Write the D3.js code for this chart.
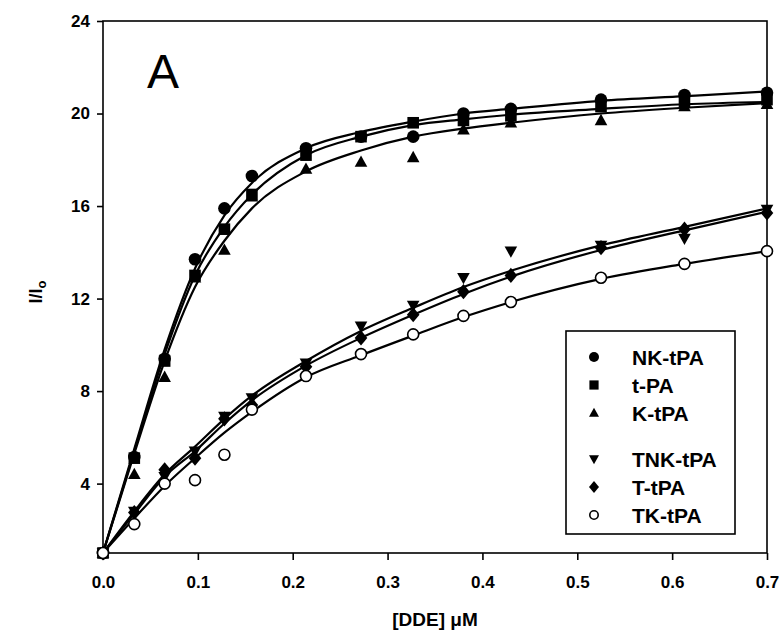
<!DOCTYPE html>
<html>
<head>
<meta charset="utf-8">
<script src="https://cdn.jsdelivr.net/npm/d3@7"></script>
<style>
  body { margin: 0; background: #fff; }
  svg { display: block; }
  text { font-family: "Liberation Sans", Arial, sans-serif; fill: #000; }
</style>
</head>
<body>
<svg id="chart" width="784" height="639"></svg>
<script>
// ---- data ----
const xValues = [0, 0.033, 0.065, 0.097, 0.128, 0.157, 0.214, 0.272, 0.327, 0.38, 0.43, 0.525, 0.613, 0.70];

const nkPoints   = [1, 5.15, 9.4, 13.7, 15.9, 17.3, 18.5, 19.0, 19.0, 20.0, 20.2, 20.6, 20.8, 20.9];
const tpaPoints  = [1, 5.1, 9.3, 13.0, 15.0, 16.5, 18.2, 19.0, 19.6, 19.7, 19.9, 20.3, 20.5, 20.6];
const kPoints    = [1, 4.4, 8.6, 12.9, 14.1, 16.4, 17.6, 17.9, 18.1, 19.3, 19.6, 19.7, 20.3, 20.4];
const tnkPoints  = [1, 2.8, 4.3, 5.4, 6.9, 7.7, 9.2, 10.8, 11.7, 12.9, 14.05, 14.3, 14.6, 15.85];
const tPoints    = [1, 2.75, 4.6, 5.1, 6.8, 7.4, 9.05, 10.3, 11.3, 12.3, 13.0, 14.2, 15.0, 15.7];
const tkPoints   = [1, 2.25, 4.0, 4.15, 5.25, 7.2, 8.65, 9.6, 10.45, 11.25, 11.85, 12.9, 13.5, 14.05];

// fitted curves at the same concentrations
const nkFit   = [1, 5.5, 9.8, 13.3, 15.6, 17.0, 18.5, 19.2, 19.65, 20.0, 20.2, 20.55, 20.75, 20.95];
const tpaFit  = [1, 5.4, 9.6, 13.0, 15.1, 16.5, 18.2, 19.0, 19.5, 19.75, 19.95, 20.2, 20.4, 20.5];
const kFit    = [1, 5.3, 9.3, 12.5, 14.5, 15.9, 17.5, 18.4, 19.0, 19.35, 19.6, 20.0, 20.25, 20.45];
const tnkFit  = [1, 2.8, 4.4, 5.6, 6.8, 7.8, 9.3, 10.6, 11.6, 12.5, 13.2, 14.3, 15.1, 15.9];
const tFit    = [1, 2.7, 4.3, 5.4, 6.6, 7.6, 9.1, 10.3, 11.3, 12.2, 12.95, 14.1, 14.95, 15.75];
const tkFit   = [1, 2.5, 3.9, 5.1, 6.2, 7.1, 8.6, 9.55, 10.4, 11.2, 11.85, 12.85, 13.5, 14.05];

const seriesNames = ["NK-tPA", "t-PA", "K-tPA", "TNK-tPA", "T-tPA", "TK-tPA"];
const xTicks = [0, 0.1, 0.2, 0.3, 0.4, 0.5, 0.6, 0.7];
const yTicks = [4, 8, 12, 16, 20, 24];

const series = [
  { name: seriesNames[0], pts: nkPoints,  fit: nkFit,  sym: "circle" },
  { name: seriesNames[1], pts: tpaPoints, fit: tpaFit, sym: "square" },
  { name: seriesNames[2], pts: kPoints,   fit: kFit,   sym: "triUp" },
  { name: seriesNames[3], pts: tnkPoints, fit: tnkFit, sym: "triDown" },
  { name: seriesNames[4], pts: tPoints,   fit: tFit,   sym: "diamond" },
  { name: seriesNames[5], pts: tkPoints,  fit: tkFit,  sym: "open" }
];

// ---- layout ----
const L = 103, R = 767, T = 21, B = 553;
const svg = d3.select("#chart");
const x = d3.scaleLinear().domain([0, 0.7]).range([L, R]);
const y = d3.scaleLinear().domain([1, 24]).range([B, T]);

// frame
svg.append("rect").attr("x", L).attr("y", T).attr("width", R - L).attr("height", B - T)
  .attr("fill", "none").attr("stroke", "#000").attr("stroke-width", 1.6);

// axes
const xAxis = svg.append("g").attr("transform", `translate(0,${B})`)
  .call(d3.axisBottom(x).tickValues(xTicks).tickFormat(d3.format(".1f")).tickSize(7).tickPadding(16));
const yAxis = svg.append("g").attr("transform", `translate(${L},0)`)
  .call(d3.axisLeft(y).tickValues(yTicks).tickFormat(d3.format("d")).tickSize(6).tickPadding(7));
[xAxis, yAxis].forEach(g => {
  g.select(".domain").remove();
  g.selectAll(".tick line").attr("stroke", "#000").attr("stroke-width", 1.6);
  g.selectAll(".tick text").attr("font-size", 17).attr("font-weight", "bold")
    .attr("font-family", "'Liberation Sans', Arial, sans-serif").attr("fill", "#000");
});

// fitted curves
const line = d3.line().x((d, i) => x(xValues[i])).y(d => y(d)).curve(d3.curveMonotoneX);
series.forEach(s => {
  svg.append("path").attr("d", line(s.fit)).attr("fill", "none")
    .attr("stroke", "#000").attr("stroke-width", 2.2);
});

// symbols
function drawSym(g, type, cx, cy, r) {
  if (type === "circle") {
    g.append("circle").attr("cx", cx).attr("cy", cy).attr("r", r).attr("fill", "#000");
  } else if (type === "open") {
    g.append("circle").attr("cx", cx).attr("cy", cy).attr("r", r - 0.8).attr("fill", "#fff")
      .attr("stroke", "#000").attr("stroke-width", 1.6);
  } else if (type === "square") {
    g.append("rect").attr("x", cx - r * 0.92).attr("y", cy - r * 0.92).attr("width", r * 1.84)
      .attr("height", r * 1.84).attr("fill", "#000");
  } else if (type === "triUp") {
    g.append("path").attr("d", `M${cx},${cy - r * 1.05}L${cx + r},${cy + r * 0.75}L${cx - r},${cy + r * 0.75}Z`).attr("fill", "#000");
  } else if (type === "triDown") {
    g.append("path").attr("d", `M${cx},${cy + r * 1.05}L${cx + r},${cy - r * 0.75}L${cx - r},${cy - r * 0.75}Z`).attr("fill", "#000");
  } else if (type === "diamond") {
    g.append("path").attr("d", `M${cx},${cy - r * 1.2}L${cx + r},${cy}L${cx},${cy + r * 1.2}L${cx - r},${cy}Z`).attr("fill", "#000");
  }
}

const pg = svg.append("g");
series.forEach(s => {
  s.pts.forEach((v, i) => drawSym(pg, s.sym, x(xValues[i]), y(v), 6.3));
});

// legend
const lg = svg.append("g");
lg.append("rect").attr("x", 566).attr("y", 331).attr("width", 169).attr("height", 203)
  .attr("fill", "#fff").attr("stroke", "#000").attr("stroke-width", 1.6);
const legendY = [357, 385, 413, 459, 487, 515];
series.forEach((s, i) => {
  drawSym(lg, s.sym, 594, legendY[i], 5);
  lg.append("text").attr("x", 632).attr("y", legendY[i]).attr("dy", "0.36em")
    .attr("font-size", 21).attr("font-weight", "bold").text(s.name);
});

// panel label
svg.append("text").attr("x", 147).attr("y", 88).attr("font-size", 48).text("A");

// axis titles
svg.append("text").attr("x", 435).attr("y", 626).attr("text-anchor", "middle")
  .attr("font-size", 19).attr("font-weight", "bold").text("[DDE] μM");
const yt = svg.append("text").attr("transform", "translate(42,292) rotate(-90)")
  .attr("text-anchor", "middle").attr("font-size", 18).attr("font-weight", "bold");
yt.append("tspan").text("I/I");
yt.append("tspan").attr("font-size", 13).attr("dy", 4).text("o");
</script>
</body>
</html>
